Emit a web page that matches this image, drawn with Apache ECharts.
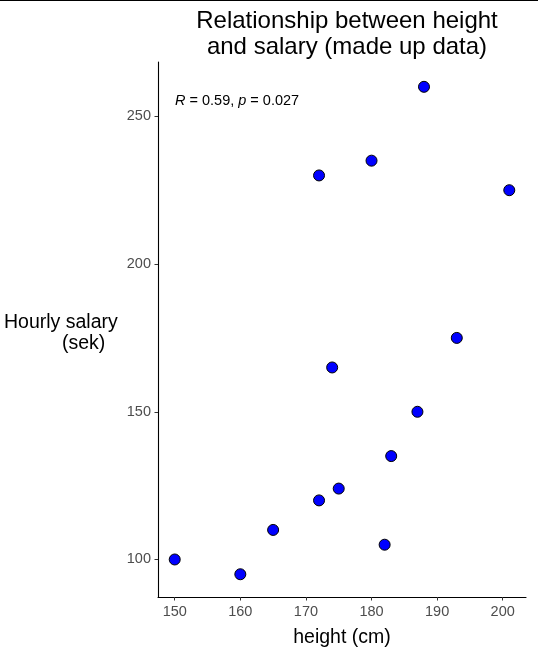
<!DOCTYPE html>
<html>
<head>
<meta charset="utf-8">
<script src="https://cdn.jsdelivr.net/npm/echarts@6/dist/echarts.min.js"></script>
<style>
  html, body { margin: 0; padding: 0; background: #fff; }
  #chart { width: 538px; height: 651px; }
</style>
</head>
<body>
<div id="chart"></div>
<script>
// made up data: height (cm) vs hourly salary (sek)
const heights = [150, 160, 165, 172, 174, 175, 182, 183, 187, 193, 172, 180, 188, 201];
const salaries = [100, 95, 110, 120, 165, 124, 105, 135, 150, 175, 230, 235, 260, 225];
const xTicks = [150, 160, 170, 180, 190, 200];
const yTicks = [100, 150, 200, 250];

const font = "Liberation Sans, Arial, sans-serif";
const chart = echarts.init(document.getElementById("chart"));

const points = heights.map((h, i) => [h, salaries[i]]);

const option = {
  backgroundColor: "#fff",
  animation: false,
  textStyle: { fontFamily: font },
  title: {
    text: "Relationship between height\nand salary (made up data)",
    left: 342,
    textAlign: "center",
    top: 3,
    textStyle: {
      fontFamily: font,
      fontSize: 24,
      fontWeight: "normal",
      color: "#000",
      lineHeight: 26,
    },
  },
  grid: { left: 158, right: 12, top: 62, bottom: 54, outerBoundsMode: "none" },
  xAxis: {
    type: "value",
    min: 147.45,
    max: 203.55,
    name: "height (cm)",
    nameLocation: "middle",
    nameGap: 31,
    nameTextStyle: { fontFamily: font, fontSize: 19.5, color: "#000" },
    splitLine: { show: false },
    axisLine: { show: true, onZero: false, lineStyle: { color: "#000", width: 1.1 } },
    axisTick: { show: true, length: 3.5, lineStyle: { color: "#333" }, customValues: xTicks },
    axisLabel: { color: "#4D4D4D", fontSize: 14.5, margin: 7, customValues: xTicks },
  },
  yAxis: {
    type: "value",
    min: 87.3,
    max: 268.4,
    splitLine: { show: false },
    axisLine: { show: true, onZero: false, lineStyle: { color: "#000", width: 1.1 } },
    axisTick: { show: true, length: 3.5, lineStyle: { color: "#333" }, customValues: yTicks },
    axisLabel: { color: "#4D4D4D", fontSize: 14.5, margin: 7, customValues: yTicks },
  },
  series: [
    {
      type: "scatter",
      data: points,
      symbolSize: 11,
      itemStyle: { color: "#0000FF", borderColor: "#000", borderWidth: 1, opacity: 1 },
    },
  ],
  graphic: [
    {
      type: "line",
      shape: { x1: 0, y1: 0.5, x2: 538, y2: 0.5 },
      style: { stroke: "#000", lineWidth: 1 },
    },
    {
      type: "text",
      left: 4,
      top: 313,
      style: { text: "Hourly salary", fontFamily: font, fontSize: 19.5, fill: "#000" },
    },
    {
      type: "text",
      left: 62,
      top: 334,
      style: { text: "(sek)", fontFamily: font, fontSize: 19.5, fill: "#000" },
    },
    {
      type: "text",
      left: 175,
      top: 93,
      style: {
        text: "{i|R} = 0.59, {i|p} = 0.027",
        fontFamily: font,
        fontSize: 14.5,
        fill: "#000",
        rich: { i: { fontStyle: "italic", fontFamily: font, fontSize: 14.5 } },
      },
    },
  ],
};

chart.setOption(option);
</script>
</body>
</html>
